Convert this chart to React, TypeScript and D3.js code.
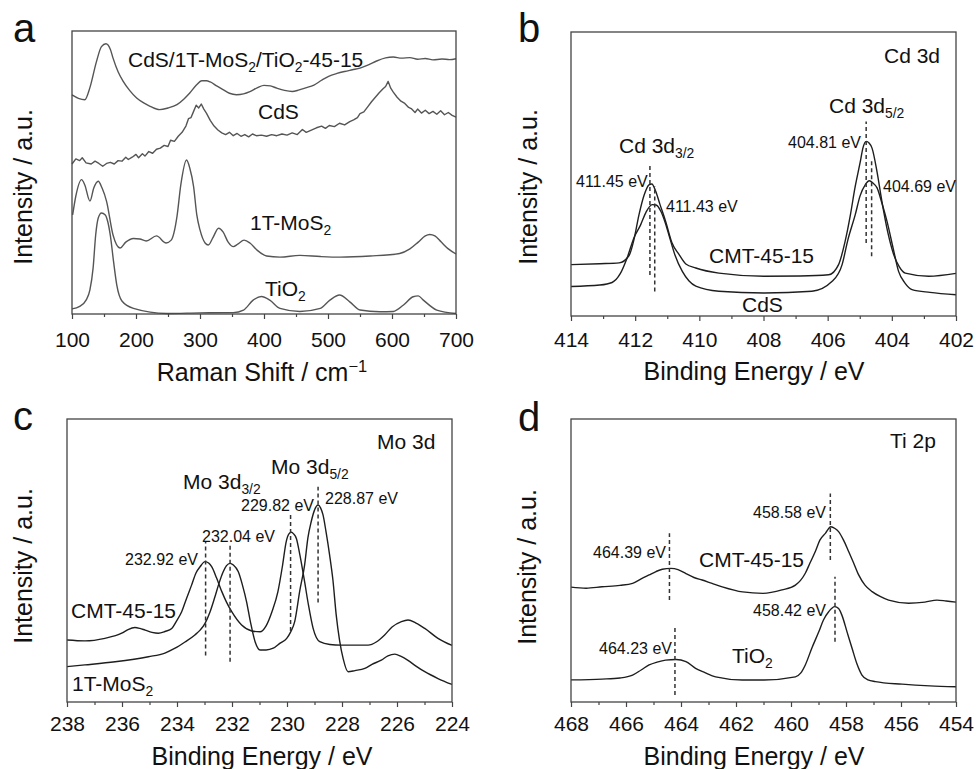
import React, { useEffect, useRef } from "react";
import * as d3 from "d3";

type Pt = [number, number];
type Seg = [string, boolean?];

// ---- panel a: Raman (shift cm-1, intensity a.u.)
const ramanTicks = [100, 200, 300, 400, 500, 600, 700];
const ramanMinor = [150, 250, 350, 450, 550, 650];
const ramanComposite: Pt[] = [
  [100, 77.4], [110, 76.2], [120, 75.7], [128, 80.0], [138, 89.0], [146, 94.5], [153, 95.5],
  [160, 93.5], [164, 90.5], [172, 85.6], [180, 82.2], [190, 79.0], [201, 76.3], [212, 74.6],
  [222, 73.4], [237, 72.2], [250, 72.8], [264, 74.0], [275, 76.0], [284, 78.1], [294, 80.8],
  [303, 82.4], [310, 82.4], [316, 82.0], [326, 80.6], [336, 79.3], [346, 78.0], [357, 77.5],
  [368, 77.8], [378, 78.6], [390, 80.0], [400, 80.8], [410, 80.6], [420, 79.8], [432, 79.0],
  [444, 78.6], [455, 79.2], [465, 79.9], [478, 80.9], [490, 82.6], [501, 84.0], [514, 85.0],
  [526, 85.7], [538, 86.3], [550, 86.9], [564, 88.1], [576, 89.4], [590, 90.5], [602, 90.8],
  [615, 90.4], [628, 90.6], [640, 90.0], [652, 90.3], [664, 89.8], [678, 90.1], [690, 89.9],
  [700, 90.2],
];
const ramanCdS: Pt[] = [
  [100, 53.0], [106, 54.8], [112, 54.2], [116, 55.2], [122, 53.4], [130, 53.0], [136, 54.0],
  [142, 53.2], [148, 52.2], [154, 53.2], [160, 53.6], [166, 53.0], [172, 54.2], [178, 54.0],
  [184, 55.4], [188, 54.6], [194, 55.4], [200, 56.4], [204, 55.2], [210, 56.6], [214, 55.8],
  [220, 57.4], [226, 56.8], [232, 58.2], [238, 58.6], [244, 59.6], [250, 59.2], [254, 61.4],
  [260, 61.0], [266, 62.8], [272, 64.2], [278, 66.4], [282, 69.0], [286, 69.4], [290, 71.6],
  [294, 73.8], [298, 72.8], [302, 74.2], [306, 72.4], [310, 71.0], [316, 68.4], [322, 66.4],
  [328, 65.0], [334, 64.0], [340, 63.4], [346, 64.2], [352, 63.0], [358, 63.8], [364, 62.8],
  [370, 63.4], [376, 62.6], [382, 63.6], [388, 63.0], [396, 63.2], [404, 62.8], [412, 63.4],
  [420, 63.0], [428, 63.6], [436, 63.2], [444, 64.0], [452, 63.4], [460, 65.2], [466, 64.2],
  [474, 65.0], [482, 65.8], [490, 66.4], [496, 65.6], [502, 66.6], [510, 66.2], [518, 67.4],
  [526, 66.8], [534, 68.0], [540, 68.6], [546, 69.4], [550, 70.8], [556, 71.4], [562, 73.2],
  [568, 75.0], [574, 76.6], [580, 78.2], [586, 79.6], [590, 80.4], [594, 82.2], [598, 79.8],
  [602, 78.4], [608, 76.6], [614, 75.2], [620, 74.4], [626, 73.0], [630, 72.6], [636, 71.2],
  [640, 72.4], [646, 71.0], [652, 72.0], [658, 70.8], [664, 71.6], [670, 70.6], [676, 71.8],
  [682, 70.4], [688, 71.2], [694, 70.2], [700, 69.6],
];
const ramanMoS2: Pt[] = [
  [101, 35.0], [106, 41.7], [115, 47.5], [120, 45.6], [128, 39.9], [134, 44.5], [141, 46.9],
  [147, 44.5], [154, 39.8], [164, 28.0], [175, 23.3], [184, 25.4], [196, 26.7], [206, 26.5],
  [216, 25.8], [232, 27.6], [247, 25.1], [255, 26.1], [264, 34.4], [270, 45.6], [279, 54.4],
  [284, 51.6], [290, 45.0], [295, 35.0], [300, 29.7], [308, 25.1], [313, 24.4], [320, 26.9],
  [329, 30.3], [336, 29.0], [344, 25.4], [352, 23.8], [359, 24.7], [369, 26.1], [378, 25.1],
  [389, 22.6], [404, 20.5], [425, 20.1], [456, 20.7], [488, 20.3], [519, 20.1], [566, 20.5],
  [612, 21.4], [628, 23.0], [641, 25.4], [652, 27.6], [659, 28.1], [667, 27.6], [677, 25.4],
  [688, 23.0], [700, 21.2],
];
const ramanTiO2: Pt[] = [
  [100, 1.8], [112, 2.7], [122, 4.9], [128, 8.5], [133, 16.3], [137, 27.9], [141, 33.9],
  [146, 35.7], [152, 35.0], [156, 32.5], [160, 27.6], [165, 18.4], [170, 10.2], [178, 4.6],
  [196, 2.0], [248, 0.2], [300, 0.4], [352, 0.5], [368, 1.4], [383, 4.9], [396, 6.2],
  [409, 4.9], [425, 2.0], [456, 0.9], [488, 2.0], [503, 4.9], [518, 6.7], [534, 4.3],
  [550, 1.4], [581, 0.8], [602, 0.9], [618, 3.2], [633, 6.1], [641, 6.4], [649, 4.9],
  [670, 1.4], [700, 0.2],
];

// ---- panel b: Cd 3d (binding energy eV)
const cdTicks = [414, 412, 410, 408, 406, 404, 402];
const cdMinor = [413, 411, 409, 407, 405, 403];
const cdCMT: Pt[] = [
  [414.0, 18.1], [413.1, 18.4], [412.5, 18.7], [412.19, 21.3], [412.04, 26.8], [411.88, 35.7],
  [411.72, 42.6], [411.57, 46.2], [411.48, 46.5], [411.36, 43.9], [411.23, 39.4], [411.05, 33.3],
  [410.85, 25.7], [410.63, 21.6], [410.42, 18.3], [410.11, 16.9], [409.39, 15.1], [407.98, 14.0],
  [406.86, 14.1], [405.97, 14.5], [405.66, 18.1], [405.46, 26.1], [405.29, 35.7], [405.15, 45.1],
  [404.98, 54.5], [404.9, 59.2], [404.8, 61.5], [404.71, 60.9], [404.62, 59.2], [404.46, 50.7],
  [404.31, 40.4], [404.12, 29.2], [403.94, 21.6], [403.77, 17.4], [403.58, 15.1], [402.85, 14.0],
  [402.0, 15.0],
];
const cdCdS: Pt[] = [
  [414.0, 10.4], [413.1, 10.9], [412.72, 11.8], [412.47, 14.8], [412.24, 20.8], [412.04, 27.5],
  [411.83, 32.1], [411.66, 36.6], [411.47, 39.2], [411.35, 39.1], [411.2, 36.9], [411.07, 33.1],
  [410.95, 28.6], [410.76, 21.5], [410.53, 15.7], [410.32, 12.3], [410.11, 10.5], [409.39, 8.7],
  [407.98, 8.1], [406.49, 8.7], [405.86, 12.2], [405.55, 18.1], [405.37, 26.8], [405.14, 35.7],
  [404.99, 42.3], [404.83, 46.2], [404.7, 47.6], [404.59, 46.8], [404.46, 45.1], [404.31, 39.8],
  [404.15, 33.3], [403.96, 23.9], [403.79, 15.7], [403.59, 11.6], [403.37, 9.3], [402.81, 8.3],
  [402.0, 7.5],
];
// dashed peak markers: [energy, lower, upper]
const cdMarkers: [number, number, number][] = [
  [411.54, 14.4, 53.9], [411.39, 8.6, 45.8], [404.8, 25.7, 68.5], [404.63, 21.0, 54.6],
];

// ---- panel c: Mo 3d
const moTicks = [238, 236, 234, 232, 230, 228, 226, 224];
const moMinor = [237, 235, 233, 231, 229, 227, 225];
const moCMT: Pt[] = [
  [238.0, 21.9], [237.35, 21.6], [236.62, 22.5], [236.01, 24.3], [235.78, 25.6], [235.53, 26.3],
  [235.35, 26.0], [235.16, 25.4], [234.91, 24.6], [234.68, 24.3], [234.44, 24.9], [234.19, 26.0],
  [234.02, 28.6], [233.83, 31.9], [233.65, 36.7], [233.47, 41.3], [233.31, 45.6], [233.16, 47.8],
  [232.98, 49.6], [232.85, 49.1], [232.74, 47.8], [232.56, 43.8], [232.37, 39.0], [232.2, 35.3],
  [232.01, 31.9], [231.65, 27.2], [231.28, 25.1], [230.98, 24.8], [230.76, 26.9], [230.55, 31.8],
  [230.33, 39.0], [230.16, 48.4], [230.03, 56.6], [229.93, 59.4], [229.84, 60.0], [229.76, 59.4],
  [229.66, 57.8], [229.53, 51.9], [229.36, 42.5], [229.22, 34.3], [229.05, 26.0], [228.81, 21.3],
  [228.44, 20.3], [228.03, 20.1], [227.05, 20.1], [226.74, 21.3], [226.45, 23.7], [226.18, 26.5],
  [225.84, 28.4], [225.6, 29.0], [225.31, 27.9], [224.99, 26.0], [224.51, 22.5], [224.0, 20.0],
];
const moMoS2: Pt[] = [
  [238.0, 12.5], [237.35, 13.1], [236.25, 14.2], [235.04, 16.0], [234.44, 17.3], [234.07, 19.0],
  [233.71, 21.2], [233.35, 23.7], [233.16, 25.4], [232.98, 27.8], [232.8, 31.8], [232.62, 37.2],
  [232.47, 42.0], [232.32, 46.0], [232.2, 48.2], [232.07, 49.0], [231.95, 48.4], [231.77, 46.0],
  [231.62, 41.3], [231.47, 35.4], [231.33, 28.3], [231.16, 21.3], [230.98, 18.4], [230.76, 18.4],
  [230.5, 19.0], [230.25, 20.8], [230.01, 22.5], [229.87, 24.7], [229.72, 28.4], [229.53, 39.6],
  [229.36, 48.4], [229.24, 58.0], [229.12, 63.7], [229.0, 67.8], [228.87, 69.6], [228.78, 68.6],
  [228.69, 66.1], [228.58, 60.1], [228.45, 51.9], [228.33, 43.1], [228.21, 30.7], [228.09, 21.9],
  [227.96, 15.4], [227.78, 10.7], [227.53, 11.1], [227.17, 11.9], [226.91, 13.3], [226.57, 14.8],
  [226.33, 16.3], [226.08, 16.9], [225.85, 16.1], [225.6, 14.7], [225.31, 12.7], [224.99, 10.7],
  [224.51, 8.3], [224.0, 6.2],
];
const moMarkers: [number, number, number][] = [
  [232.96, 16.4, 56.6], [232.07, 14.2, 55.5], [229.87, 25.1, 66.1], [228.87, 35.2, 76.1],
];

// ---- panel d: Ti 2p
const tiTicks = [468, 466, 464, 462, 460, 458, 456, 454];
const tiMinor = [467, 465, 463, 461, 459, 457, 455];
const tiCMT: Pt[] = [
  [468.0, 40.6], [467.45, 40.2], [466.87, 40.7], [466.22, 41.2], [465.76, 41.9], [465.45, 43.5],
  [465.16, 44.9], [464.91, 46.1], [464.68, 46.9], [464.37, 47.2], [464.11, 46.8], [463.82, 45.4],
  [463.53, 44.0], [463.23, 43.1], [462.87, 41.9], [462.5, 40.7], [461.76, 38.9], [461.02, 38.4],
  [460.33, 39.6], [459.84, 41.3], [459.48, 45.5], [459.31, 49.1], [459.12, 53.1], [458.95, 57.2],
  [458.75, 59.6], [458.55, 61.9], [458.4, 61.3], [458.27, 60.2], [458.09, 57.2], [457.9, 53.1],
  [457.73, 49.3], [457.54, 44.9], [457.31, 41.3], [457.05, 39.0], [456.76, 37.3], [456.45, 36.0],
  [455.72, 34.9], [455.13, 35.3], [454.69, 36.0], [454.36, 35.7], [454.0, 35.3],
];
const tiTiO2: Pt[] = [
  [468.0, 7.8], [466.87, 8.1], [466.22, 8.5], [465.76, 9.5], [465.45, 11.3], [465.16, 13.1],
  [464.87, 14.1], [464.56, 14.8], [464.18, 15.0], [463.82, 14.3], [463.47, 11.9], [463.13, 10.4],
  [462.74, 8.9], [461.77, 7.8], [460.98, 7.8], [459.84, 8.9], [459.65, 10.2], [459.48, 13.1],
  [459.24, 19.1], [458.99, 24.8], [458.82, 29.0], [458.63, 31.9], [458.41, 33.7], [458.27, 33.0],
  [458.15, 30.7], [457.96, 24.7], [457.78, 19.0], [457.6, 13.4], [457.42, 9.5], [457.2, 7.8],
  [456.93, 7.2], [455.96, 6.3], [454.95, 5.7], [454.0, 5.4],
];
const tiMarkers: [number, number, number][] = [
  [464.42, 36.0, 59.6], [458.57, 50.2, 73.7], [464.22, 2.5, 26.6], [458.4, 21.3, 44.3],
];

const FONT = "'Liberation Sans', Arial, Helvetica, sans-serif";
const SUB: boolean = true;

type Label = { x: number; y: number; size: number; segs: Seg[] };
type Series = { data: Pt[]; color: string; linear?: boolean };
type PanelCfg = {
  letter: string; lx: number; ly: number;
  left: number; right: number; top: number; bottom: number;
  domain: [number, number]; ticks: number[]; minor: number[];
  tickBase: number; xTitle: Seg[]; titleX: number; titleY: number;
  yTitleX: number; yTitleY: number;
  series: Series[]; markers: [number, number, number][]; labels: Label[];
};

const panels: PanelCfg[] = [
  {
    letter: "a", lx: 13, ly: 42, left: 72, right: 456, top: 31, bottom: 314,
    domain: [100, 700], ticks: ramanTicks, minor: ramanMinor, tickBase: 347,
    xTitle: [["Raman Shift / cm"], ["\u22121", false]], titleX: 262, titleY: 381,
    yTitleX: 32, yTitleY: 187,
    series: [
      { data: ramanComposite, color: "#555" },
      { data: ramanCdS, color: "#555", linear: true },
      { data: ramanMoS2, color: "#555" },
      { data: ramanTiO2, color: "#555" },
    ],
    markers: [],
    labels: [
      { x: 128, y: 67, size: 21, segs: [["CdS/1T-MoS"], ["2", SUB], ["/TiO"], ["2", SUB], ["-45-15"]] },
      { x: 258, y: 119, size: 21, segs: [["CdS"]] },
      { x: 250, y: 230, size: 21, segs: [["1T-MoS"], ["2", SUB]] },
      { x: 265, y: 296, size: 21, segs: [["TiO"], ["2", SUB]] },
    ],
  },
  {
    letter: "b", lx: 518, ly: 42, left: 571, right: 956, top: 32, bottom: 316,
    domain: [414, 402], ticks: cdTicks, minor: cdMinor, tickBase: 347,
    xTitle: [["Binding Energy / eV"]], titleX: 754, titleY: 380,
    yTitleX: 537, yTitleY: 187,
    series: [
      { data: cdCMT, color: "#1e1e1e" },
      { data: cdCdS, color: "#1e1e1e" },
    ],
    markers: cdMarkers,
    labels: [
      { x: 884, y: 63, size: 21, segs: [["Cd 3d"]] },
      { x: 619, y: 153, size: 21, segs: [["Cd 3d"], ["3/2", SUB]] },
      { x: 829, y: 113, size: 21, segs: [["Cd 3d"], ["5/2", SUB]] },
      { x: 576, y: 187, size: 16, segs: [["411.45 eV"]] },
      { x: 666, y: 212, size: 16, segs: [["411.43 eV"]] },
      { x: 788, y: 148, size: 16, segs: [["404.81 eV"]] },
      { x: 883, y: 192, size: 16, segs: [["404.69 eV"]] },
      { x: 709, y: 263, size: 21, segs: [["CMT-45-15"]] },
      { x: 742, y: 312, size: 21, segs: [["CdS"]] },
    ],
  },
  {
    letter: "c", lx: 13, ly: 430, left: 67, right: 452, top: 419, bottom: 702,
    domain: [238, 224], ticks: moTicks, minor: moMinor, tickBase: 731,
    xTitle: [["Binding Energy / eV"]], titleX: 262, titleY: 765,
    yTitleX: 32, yTitleY: 566,
    series: [
      { data: moCMT, color: "#1e1e1e" },
      { data: moMoS2, color: "#1e1e1e" },
    ],
    markers: moMarkers,
    labels: [
      { x: 377, y: 449, size: 21, segs: [["Mo 3d"]] },
      { x: 183, y: 489, size: 21, segs: [["Mo 3d"], ["3/2", SUB]] },
      { x: 271, y: 474, size: 21, segs: [["Mo 3d"], ["5/2", SUB]] },
      { x: 241, y: 511, size: 16, segs: [["229.82 eV"]] },
      { x: 325, y: 504, size: 16, segs: [["228.87 eV"]] },
      { x: 202, y: 542, size: 16, segs: [["232.04 eV"]] },
      { x: 125, y: 565, size: 16, segs: [["232.92 eV"]] },
      { x: 71, y: 618, size: 21, segs: [["CMT-45-15"]] },
      { x: 72, y: 691, size: 21, segs: [["1T-MoS"], ["2", SUB]] },
    ],
  },
  {
    letter: "d", lx: 518, ly: 431, left: 571, right: 956, top: 419, bottom: 702,
    domain: [468, 454], ticks: tiTicks, minor: tiMinor, tickBase: 731,
    xTitle: [["Binding Energy / eV"]], titleX: 754, titleY: 765,
    yTitleX: 536, yTitleY: 567,
    series: [
      { data: tiCMT, color: "#1e1e1e" },
      { data: tiTiO2, color: "#1e1e1e" },
    ],
    markers: tiMarkers,
    labels: [
      { x: 890, y: 448, size: 21, segs: [["Ti 2p"]] },
      { x: 753, y: 518, size: 16, segs: [["458.58 eV"]] },
      { x: 593, y: 558, size: 16, segs: [["464.39 eV"]] },
      { x: 699, y: 567, size: 21, segs: [["CMT-45-15"]] },
      { x: 753, y: 616, size: 16, segs: [["458.42 eV"]] },
      { x: 599, y: 654, size: 16, segs: [["464.23 eV"]] },
      { x: 732, y: 663, size: 21, segs: [["TiO"], ["2", SUB]] },
    ],
  },
];

// text with sub/superscript segments (true = sub, false = super)
const RichText = ({ x, y, size, segs, anchor }: { x: number; y: number; size: number; segs: Seg[]; anchor?: string }) => {
  let shift = 0;
  return (
    <text x={x} y={y} fontSize={size} fontFamily={FONT} fill="#111" textAnchor={anchor || "start"}>
      {segs.map(([t, s], i) => {
        const target = s === true ? size * 0.26 : s === false ? -size * 0.38 : 0;
        const dy = target - shift;
        shift = target;
        return (
          <tspan key={i} dy={dy} fontSize={s === undefined ? size : size * 0.66}>
            {t}
          </tspan>
        );
      })}
    </text>
  );
};

const Panel = ({ p }: { p: PanelCfg }) => {
  const axisRef = useRef<SVGGElement>(null);
  const x = d3.scaleLinear().domain(p.domain).range([p.left, p.right]);
  const y = d3.scaleLinear().domain([0, 100]).range([p.bottom, p.top]);

  useEffect(() => {
    const g = d3.select(axisRef.current);
    g.selectAll("*").remove();
    g.attr("transform", `translate(0,${p.bottom})`);

    const minor = g.append("g").call(d3.axisBottom(x).tickValues(p.minor).tickSize(3).tickFormat(() => ""));
    const major = g.append("g").call(d3.axisBottom(x).tickValues(p.ticks).tickSize(5).tickFormat(d3.format("d")));
    [minor, major].forEach((a) => {
      a.select(".domain").remove();
      a.selectAll("line").attr("stroke", "#444").attr("stroke-width", 1.2);
    });
    major
      .selectAll("text")
      .attr("y", p.tickBase - p.bottom)
      .attr("dy", 0)
      .attr("fill", "#111")
      .attr("font-size", 21)
      .attr("font-family", FONT);
  }, []);

  const line = d3
    .line<Pt>()
    .x((d) => x(d[0]))
    .y((d) => y(d[1]));

  return (
    <g>
      <text x={p.lx} y={p.ly} fontSize={40} fontFamily={FONT} fill="#111">
        {p.letter}
      </text>
      {p.series.map((s, i) => (
        <path
          key={i}
          d={line.curve(s.linear ? d3.curveLinear : d3.curveMonotoneX)(s.data) || ""}
          fill="none"
          stroke={s.color}
          strokeWidth={1.4}
          strokeLinejoin="round"
        />
      ))}
      {p.markers.map(([e, lo, hi], i) => (
        <line
          key={i}
          x1={x(e)}
          x2={x(e)}
          y1={y(lo)}
          y2={y(hi)}
          stroke="#333"
          strokeWidth={1.5}
          strokeDasharray="4 3"
        />
      ))}
      <rect
        x={p.left}
        y={p.top}
        width={p.right - p.left}
        height={p.bottom - p.top}
        fill="none"
        stroke="#444"
        strokeWidth={1.3}
      />
      <g ref={axisRef} />
      {p.labels.map((l, i) => (
        <RichText key={i} x={l.x} y={l.y} size={l.size} segs={l.segs} />
      ))}
      <RichText x={p.titleX} y={p.titleY} size={25} segs={p.xTitle} anchor="middle" />
      <text
        transform={`translate(${p.yTitleX},${p.yTitleY}) rotate(-90)`}
        textAnchor="middle"
        fontSize={25}
        fontFamily={FONT}
        fill="#111"
      >
        Intensity / a.u.
      </text>
    </g>
  );
};

const App = () => {
  return (
    <svg
      width={976}
      height={769}
      style={{ position: "absolute", left: 0, top: 0, background: "#fff" }}
    >
      <rect width={976} height={769} fill="#fff" />
      {panels.map((p) => (
        <Panel key={p.letter} p={p} />
      ))}
    </svg>
  );
};

export default App;
